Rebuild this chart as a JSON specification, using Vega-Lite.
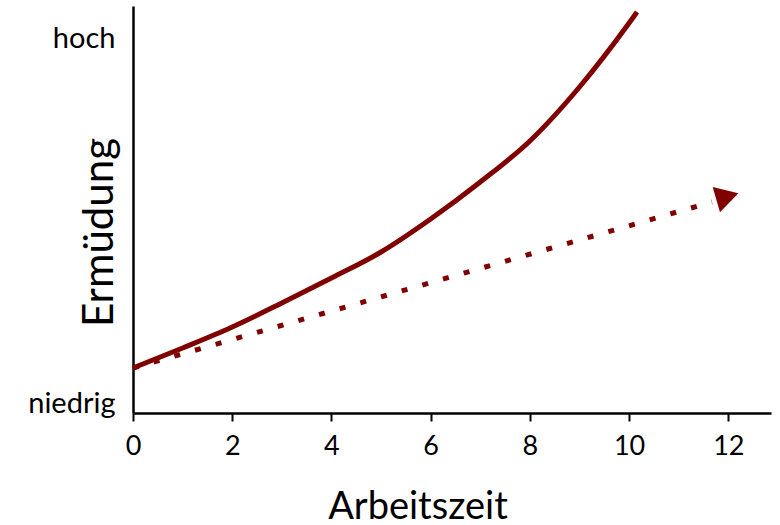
{
  "$schema": "https://vega.github.io/schema/vega-lite/v6.json",
  "autosize": "none",
  "width": 638,
  "height": 407,
  "padding": {"left": 133, "top": 6, "right": 9, "bottom": 112},
  "background": "white",
  "config": {
    "view": {"stroke": null},
    "font": "Lato",
    "axis": {"grid": false, "domainColor": "black", "domainWidth": 2.5, "tickColor": "black", "labelColor": "black", "titleColor": "black", "titleFontWeight": "normal", "labelFont": "Lato", "titleFont": "Lato"}
  },
  "datasets": {
    "curve": [
      {"x": 0, "y": 45},
      {"x": 1, "y": 65},
      {"x": 2, "y": 86},
      {"x": 3, "y": 110},
      {"x": 4, "y": 135},
      {"x": 5, "y": 161},
      {"x": 6, "y": 194},
      {"x": 7, "y": 231},
      {"x": 8, "y": 272},
      {"x": 9, "y": 326},
      {"x": 10, "y": 390},
      {"x": 10.16, "y": 401}
    ],
    "trend": [
      {"x": 0, "y": 45},
      {"x": 11.67, "y": 211}
    ],
    "arrow": [
      {"x": 11.98, "y": 216.5}
    ]
  },
  "layer": [
    {
      "data": {"name": "curve"},
      "mark": {"type": "line", "color": "#800000", "strokeWidth": 5, "interpolate": "monotone", "clip": false},
      "encoding": {
        "x": {
          "field": "x", "type": "quantitative",
          "scale": {"domain": [0, 12.86], "nice": false, "zero": false},
          "axis": {
            "values": [0, 2, 4, 6, 8, 10, 12],
            "title": "Arbeitszeit",
            "titleFontSize": 38,
            "titleX": 284.5,
            "titleY": 105,
            "titleBaseline": "alphabetic",
            "titleAlign": "center",
            "labelFontSize": 27,
            "labelPadding": 12,
            "labelFlush": false,
            "tickSize": 8,
            "tickWidth": 2
          }
        },
        "y": {
          "field": "y", "type": "quantitative",
          "scale": {"domain": [0, 407], "nice": false, "zero": false},
          "axis": {
            "values": [10, 375],
            "labelExpr": "datum.value < 100 ? 'niedrig' : 'hoch'",
            "labelFontSize": 29,
            "labelPadding": 18,
            "ticks": false,
            "title": "Ermüdung",
            "titleFontSize": 42,
            "titleAngle": -90,
            "titleX": -21,
            "titleY": 226,
            "titleBaseline": "alphabetic",
            "titleAlign": "center"
          }
        }
      }
    },
    {
      "data": {"name": "trend"},
      "mark": {"type": "line", "color": "#800000", "strokeWidth": 5, "strokeDash": [6, 15.5]},
      "encoding": {
        "x": {"field": "x", "type": "quantitative"},
        "y": {"field": "y", "type": "quantitative"}
      }
    },
    {
      "data": {"name": "arrow"},
      "mark": {"type": "point", "shape": "triangle-right", "filled": true, "color": "#800000", "opacity": 1, "size": 700, "angle": -16},
      "encoding": {
        "x": {"field": "x", "type": "quantitative"},
        "y": {"field": "y", "type": "quantitative"}
      }
    }
  ]
}
